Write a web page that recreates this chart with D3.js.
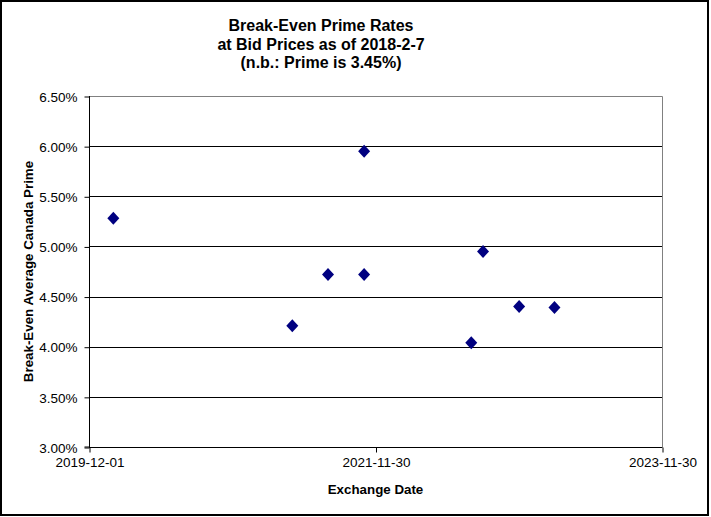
<!DOCTYPE html>
<html><head><meta charset="utf-8">
<script src="https://cdn.jsdelivr.net/npm/d3@7"></script>
<style>
html,body{margin:0;padding:0;background:#fff;}
svg{display:block;font-family:Arial,"Liberation Sans",sans-serif;}
</style></head>
<body>
<svg id="chart" width="711" height="517"></svg>
<script>
const titleLines = ["Break-Even Prime Rates", "at Bid Prices as of 2018-2-7", "(n.b.: Prime is 3.45%)"];
const xAxisTitle = "Exchange Date";
const yAxisTitle = "Break-Even Average Canada Prime";
const exchangeDates = ["2020-02-01","2021-05-02","2021-08-01","2021-11-01","2021-11-01","2022-08-01","2022-08-31","2022-12-01","2023-03-01"];
const primeRates = [5.28, 4.21, 4.72, 5.95, 4.72, 4.04, 4.95, 4.40, 4.39];
const xTickLabels = ["2019-12-01","2021-11-30","2023-11-30"];
const yTicks = [3.0, 3.5, 4.0, 4.5, 5.0, 5.5, 6.0, 6.5];

const parse = d3.utcParse("%Y-%m-%d");
const svg = d3.select("#chart");

// outer border
svg.append("rect").attr("x",1).attr("y",1).attr("width",707).attr("height",514)
  .attr("fill","#fff").attr("stroke","#000").attr("stroke-width",2);

const L = 89, R = 662, T = 96, B = 447;
const x = d3.scaleUtc().domain([parse(xTickLabels[0]), parse(xTickLabels[2])]).range([L, R]);
const y = d3.scaleLinear().domain([3.0, 6.5]).range([B, T]);

// gridlines
svg.append("g").selectAll("line").data(yTicks.slice(1, -1)).join("line")
  .attr("x1", L).attr("x2", R)
  .attr("y1", d => Math.round(y(d)) + 0.5).attr("y2", d => Math.round(y(d)) + 0.5)
  .attr("stroke", "#000").attr("stroke-width", 1);

// plot frame top/right (gray)
svg.append("path")
  .attr("d", `M${L},${T + 0.5}H${R + 0.5}V${B}`)
  .attr("fill","none").attr("stroke","#808080").attr("stroke-width",1);

// y axis
const yAxis = d3.axisLeft(y).tickValues(yTicks).tickSize(5).tickPadding(7)
  .tickFormat(d => d3.format(".2f")(d) + "%");
const gy = svg.append("g").attr("transform", `translate(${L + 0.5},0.5)`).call(yAxis);
gy.select(".domain").attr("stroke","#000").attr("d", `M-5,${B - 0.5}H0V${T - 0.5}`);
gy.selectAll("line").attr("stroke","#000");
gy.selectAll("text").attr("font-size","13.5px").attr("fill","#000")
  .attr("font-family","Arial, 'Liberation Sans', sans-serif").attr("dy","0.35em");

// x axis
const xAxis = d3.axisBottom(x).tickValues(xTickLabels.map(parse)).tickSize(5).tickPadding(4)
  .tickFormat(d3.utcFormat("%Y-%m-%d"));
const gx = svg.append("g").attr("transform", `translate(0.5,${B + 0.5})`).call(xAxis);
gx.select(".domain").attr("stroke","#000").attr("d", `M${L - 0.5},0H${R}`);
gx.selectAll("line").attr("stroke","#000");
gx.selectAll("text").attr("font-size","13.5px").attr("fill","#000")
  .attr("font-family","Arial, 'Liberation Sans', sans-serif").attr("dy","0.8em");

// points (diamonds)
const pts = exchangeDates.map((d, i) => ({date: parse(d), v: primeRates[i]}));
svg.append("g").selectAll("path").data(pts).join("path")
  .attr("d", d => {
    const cx = x(d.date), cy = y(d.v);
    return `M${cx},${cy - 6.5}L${cx + 6},${cy}L${cx},${cy + 6.5}L${cx - 6},${cy}Z`;
  })
  .attr("fill", "#000080");

// title
const t = svg.append("text").attr("text-anchor","middle").attr("font-weight","bold")
  .attr("font-size","16px").attr("fill","#000");
titleLines.forEach((s, i) => {
  t.append("tspan").attr("x", 321).attr("y", 31 + i * 18.5).text(s);
});

// axis titles
svg.append("text").attr("x", (L + R) / 2).attr("y", 494).attr("text-anchor","middle")
  .attr("font-weight","bold").attr("font-size","13.33px").text(xAxisTitle);
svg.append("text").attr("transform", `translate(33,${(T + B) / 2}) rotate(-90)`)
  .attr("text-anchor","middle").attr("font-weight","bold").attr("font-size","13.33px")
  .text(yAxisTitle);
</script>
</body></html>
